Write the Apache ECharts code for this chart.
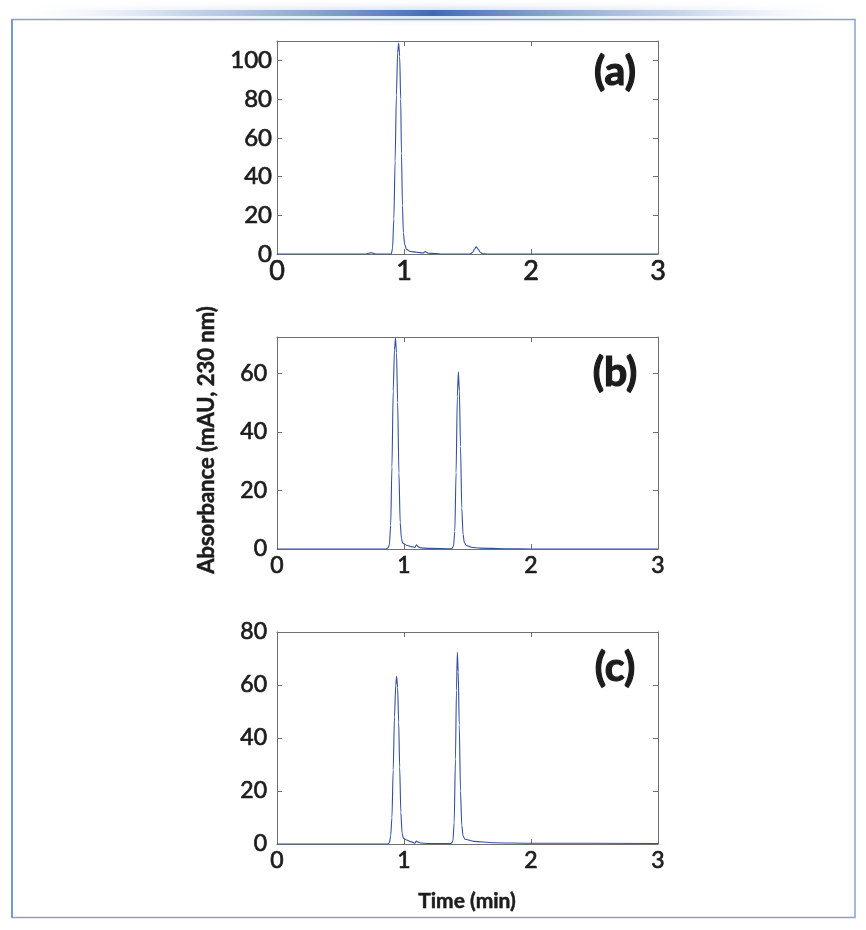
<!DOCTYPE html>
<html>
<head>
<meta charset="utf-8">
<script src="https://cdn.jsdelivr.net/npm/echarts@6/dist/echarts.min.js"></script>
<style>
html,body{margin:0;padding:0;background:#ffffff;}
#chart{width:866px;height:930px;}
</style>
</head>
<body>
<div id="chart"></div>
<script>
// Panel (a)
var timeA = [0, 0.70, 0.72, 0.74, 0.76, 0.78, 0.90, 0.91, 0.92, 0.93, 0.94, 0.95, 0.958, 0.966, 0.974, 0.98, 0.988, 0.995, 1.005, 1.02, 1.05, 1.10, 1.15, 1.168, 1.178, 1.19, 1.25, 1.30, 1.52, 1.54, 1.555, 1.568, 1.583, 1.60, 1.62, 1.65, 3];
var absA  = [0, 0, 0.3, 0.7, 0.3, 0, 0, 3, 18, 48, 82, 104, 109, 102, 80, 52, 25, 11, 5, 2.4, 1.3, 0.9, 0.5, 1.3, 0.9, 0.4, 0.2, 0, 0, 0.8, 2.5, 3.7, 2.6, 0.9, 0.1, 0, 0];
// Panel (b)
var timeB = [0, 0.86, 0.875, 0.885, 0.895, 0.905, 0.915, 0.925, 0.933, 0.941, 0.95, 0.96, 0.97, 0.98, 0.99, 1.02, 1.06, 1.085, 1.098, 1.11, 1.13, 1.2, 1.375, 1.39, 1.40, 1.41, 1.42, 1.428, 1.436, 1.445, 1.455, 1.465, 1.475, 1.49, 1.53, 1.6, 1.8, 2.0, 3];
var absB  = [0, 0, 0.4, 1.5, 8, 28, 54, 68, 72, 67, 50, 26, 9, 3.5, 2, 1.3, 0.8, 0.5, 1.4, 0.8, 0.4, 0.2, 0.1, 1, 6, 26, 52, 60.5, 54, 35, 14, 5, 2.2, 1.2, 0.6, 0.3, 0.1, 0, 0];
// Panel (c)
var timeC = [0, 0.87, 0.885, 0.895, 0.905, 0.915, 0.925, 0.935, 0.942, 0.95, 0.958, 0.966, 0.975, 0.985, 0.995, 1.02, 1.06, 1.085, 1.098, 1.11, 1.13, 1.2, 1.37, 1.385, 1.395, 1.405, 1.413, 1.42, 1.427, 1.435, 1.445, 1.455, 1.465, 1.48, 1.55, 1.7, 2.0, 3];
var absC  = [0, 0, 0.5, 3, 10, 28, 48, 60, 63.3, 59, 46, 29, 12, 4, 2.2, 1.5, 0.8, 0.3, 1.1, 0.7, 0.4, 0.2, 0.2, 1, 8, 32, 58, 72.3, 65, 45, 20, 7, 3, 1.8, 1, 0.5, 0.3, 0.2];

var panelLabels = ['(a)', '(b)', '(c)'];
var yMax = [110, 72.4, 80];
var yStep = [20, 20, 20];
var xMin = 0, xMax = 3, xStep = 1;
var yTitle = 'Absorbance (mAU, 230 nm)';
var xTitle = 'Time (min)';

function zip(t, v) { return t.map(function (x, i) { return [x, v[i]]; }); }

var FONT = 'Lato';
var AXIS_COLOR = '#707070';
var TEXT_COLOR = '#1c1c1c';
var LINE_COLOR = '#3350a0';

var grids = [
  { left: 277, right: 208, top: 41, height: 213 },
  { left: 277, right: 208, top: 337, height: 212 },
  { left: 277, right: 208, top: 632, height: 212 }
];
var ySize = [24, 23, 23];
var xSize = [27, 23, 23];
var yMargin = [5, 10, 10];
var xMargin = [4, 5, 5];

var xAxes = [], yAxes = [], series = [];
var datas = [zip(timeA, absA), zip(timeB, absB), zip(timeC, absC)];

for (var g = 0; g < 3; g++) {
  var lineStyle = { color: AXIS_COLOR, width: 1 };
  xAxes.push({
    type: 'value', gridIndex: g, min: xMin, max: xMax, interval: xStep, position: 'bottom',
    axisLine: { show: true, onZero: false, lineStyle: lineStyle },
    axisTick: { show: true, inside: true, length: 5, lineStyle: lineStyle },
    axisLabel: { show: true, color: TEXT_COLOR, fontSize: xSize[g], fontFamily: FONT, margin: xMargin[g],
      textBorderColor: TEXT_COLOR, textBorderWidth: 0.7 },
    splitLine: { show: false }
  });
  xAxes.push({
    type: 'value', gridIndex: g, min: xMin, max: xMax, interval: xStep, position: 'top',
    axisLine: { show: true, onZero: false, lineStyle: lineStyle },
    axisTick: { show: true, inside: true, length: 5, lineStyle: lineStyle },
    axisLabel: { show: false }, splitLine: { show: false }
  });
  yAxes.push({
    type: 'value', gridIndex: g, min: 0, max: yMax[g], interval: yStep[g], position: 'left',
    axisLine: { show: true, onZero: false, lineStyle: lineStyle },
    axisTick: { show: true, inside: true, length: 5, lineStyle: lineStyle },
    axisLabel: { show: true, color: TEXT_COLOR, fontSize: ySize[g], fontFamily: FONT, margin: yMargin[g], showMaxLabel: true,
      textBorderColor: TEXT_COLOR, textBorderWidth: 0.7,
      formatter: function (v) { return (Math.abs(v - Math.round(v / 20) * 20) < 1e-6) ? String(v) : ''; } },
    splitLine: { show: false }
  });
  yAxes.push({
    type: 'value', gridIndex: g, min: 0, max: yMax[g], interval: yStep[g], position: 'right',
    axisLine: { show: true, onZero: false, lineStyle: lineStyle },
    axisTick: { show: true, inside: true, length: 5, lineStyle: lineStyle },
    axisLabel: { show: false }, splitLine: { show: false }
  });
  series.push({
    type: 'line', xAxisIndex: g * 2, yAxisIndex: g * 2, data: datas[g],
    showSymbol: false, symbol: 'none', smooth: 0.25, smoothMonotone: 'x',
    lineStyle: { color: LINE_COLOR, width: 1.1 }, silent: true, animation: false, z: 1
  });
}

var graphics = [
  { type: 'rect', shape: { x: 25, y: 10, width: 816, height: 6 }, silent: true,
    style: { fill: new echarts.graphic.LinearGradient(0, 0, 1, 0, [
      { offset: 0, color: 'rgba(255,255,255,0)' },
      { offset: 0.2, color: 'rgba(150,175,215,0.45)' },
      { offset: 0.5, color: 'rgba(62,108,175,1)' },
      { offset: 0.8, color: 'rgba(150,175,215,0.45)' },
      { offset: 1, color: 'rgba(255,255,255,0)' }
    ]), shadowBlur: 10, shadowColor: 'rgba(90,130,190,0.5)' } },
  { type: 'rect', shape: { x: 12, y: 19.5, width: 843, height: 898 }, silent: true,
    style: { fill: 'none', stroke: '#86a3d0', lineWidth: 1.5 } },
  { type: 'line', shape: { x1: 12, y1: 19.5, x2: 12, y2: 917.5 }, silent: true,
    style: { stroke: '#6a8cc4', lineWidth: 1.5 } },
  { type: 'text', x: 207, y: 440, rotation: Math.PI / 2, silent: true,
    style: { text: yTitle, fill: TEXT_COLOR, font: 'bold 22px ' + FONT, align: 'center', verticalAlign: 'middle',
      stroke: TEXT_COLOR, lineWidth: 0.5 } },
  { type: 'text', x: 467, y: 901, silent: true,
    style: { text: xTitle, fill: TEXT_COLOR, font: 'bold 21px ' + FONT, align: 'center', verticalAlign: 'middle',
      stroke: TEXT_COLOR, lineWidth: 0.5 } }
];
var labelY = [72, 373, 668];
for (var k = 0; k < 3; k++) {
  graphics.push({ type: 'text', x: 615, y: labelY[k], silent: true,
    style: { text: panelLabels[k], fill: TEXT_COLOR, font: 'bold 41px ' + FONT, align: 'center', verticalAlign: 'middle',
      stroke: TEXT_COLOR, lineWidth: 1.2 } });
}

var chart = echarts.init(document.getElementById('chart'), null, { renderer: 'canvas' });
chart.setOption({
  animation: false,
  backgroundColor: '#ffffff',
  grid: grids,
  xAxis: xAxes,
  yAxis: yAxes,
  series: series,
  graphic: graphics
});
</script>
</body>
</html>
